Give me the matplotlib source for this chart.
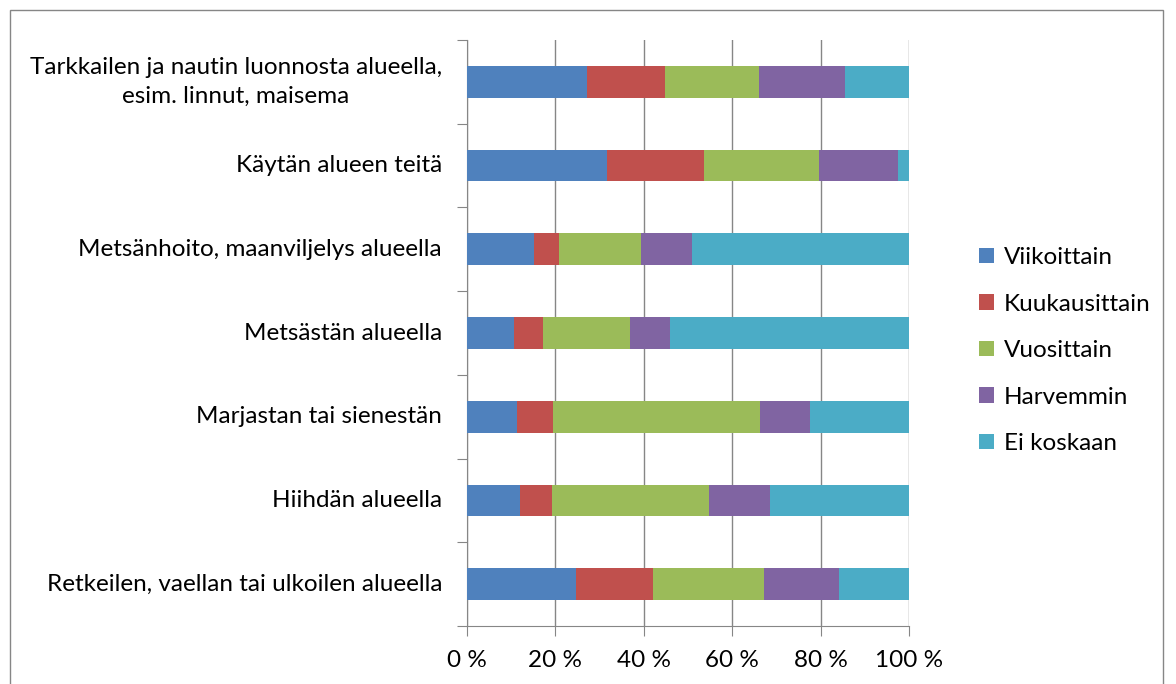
import numpy as np
import matplotlib.pyplot as plt
from matplotlib.patches import Rectangle
from matplotlib.ticker import FixedLocator

# categories, top to bottom
labels = ["Tarkkailen ja nautin luonnosta alueella,\nesim. linnut, maisema",
          "Käytän alueen teitä",
          "Metsänhoito, maanviljelys alueella",
          "Metsästän alueella",
          "Marjastan tai sienestän",
          "Hiihdän alueella",
          "Retkeilen, vaellan tai ulkoilen alueella"]

series = ["Viikoittain", "Kuukausittain", "Vuosittain", "Harvemmin", "Ei koskaan"]

viikoittain   = [27.2, 31.7, 15.2, 10.6, 11.3, 12.1, 24.7]
kuukausittain = [17.7, 22.0,  5.7,  6.6,  8.2,  7.1, 17.3]
vuosittain    = [21.1, 25.9, 18.5, 19.7, 46.9, 35.6, 25.3]
harvemmin     = [19.6, 17.8, 11.4,  9.1, 11.3, 13.7, 16.9]
ei_koskaan    = [14.4,  2.6, 49.2, 54.0, 22.3, 31.5, 15.8]

xticks = [0, 20, 40, 60, 80, 100]
xticklabels = ["0 %", "20 %", "40 %", "60 %", "80 %", "100 %"]

colors = ["#4F81BD", "#C0504D", "#9BBB59", "#8064A2", "#4BACC6"]
grey = "#868686"
fs = 17.5

plt.rcParams['font.family'] = ['Lato', 'DejaVu Sans']

fig = plt.figure(figsize=(11.76, 6.84), dpi=100)
ax = fig.add_axes([467/1176, 1 - 626/684, 442/1176, 586/684])

# outer chart border
fig.patches.append(Rectangle((10/1176, -0.05), 1153/1176, 1 - 10/684 + 0.05,
                             transform=fig.transFigure, fill=False,
                             edgecolor=grey, lw=1))

y = np.arange(len(labels))
data = [viikoittain, kuukausittain, vuosittain, harvemmin, ei_koskaan]
left = np.zeros(len(labels))
for vals, col, name in zip(data, colors, series):
    vals = np.array(vals)
    ax.barh(y, vals, left=left, height=0.38, color=col, label=name, zorder=3)
    left += vals

ax.set_xlim(0, 100)
ax.set_ylim(len(labels) - 0.5, -0.5)

ax.set_xticks(xticks)
ax.set_xticklabels(xticklabels, fontsize=fs)
ax.xaxis.grid(True, color=grey, lw=1, zorder=0)
ax.tick_params(axis='x', direction='out', length=7, color=grey, pad=10)

# category ticks at boundaries, labels at centers
ax.yaxis.set_major_locator(FixedLocator(np.arange(-0.5, len(labels), 1.0)))
ax.yaxis.set_major_formatter(plt.NullFormatter())
ax.yaxis.set_minor_locator(FixedLocator(y))
ax.set_yticklabels(labels, minor=True, fontsize=fs, multialignment='center',
                   linespacing=1.5, va='center')
ax.tick_params(axis='y', which='major', direction='out', length=7, color=grey)
ax.tick_params(axis='y', which='minor', length=0, pad=18)

for s in ['top', 'right']:
    ax.spines[s].set_visible(False)
for s in ['left', 'bottom']:
    ax.spines[s].set_color(grey)

leg = ax.legend(loc='center left', bbox_to_anchor=(1.11, 0.47), frameon=False,
                fontsize=fs, handlelength=0.6, handleheight=0.6,
                handletextpad=0.4, labelspacing=1.05)

plt.savefig("out.png", dpi=100)
